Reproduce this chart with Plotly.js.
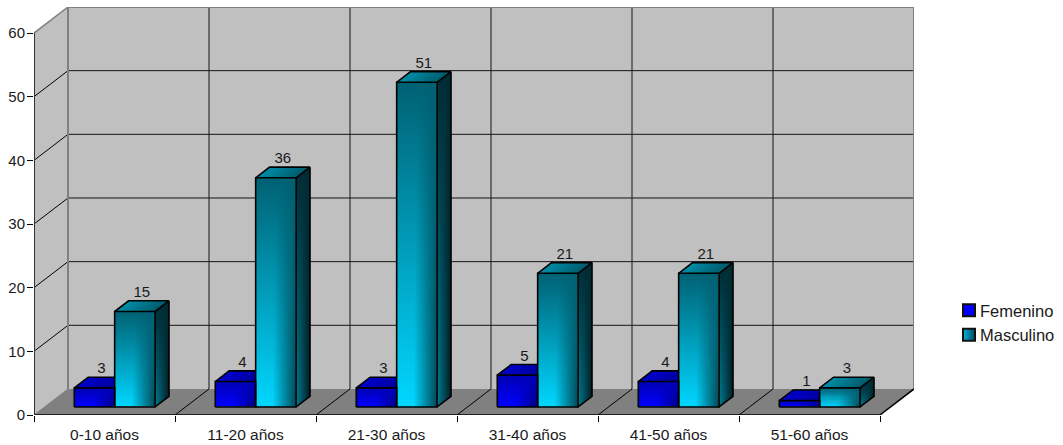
<!DOCTYPE html>
<html>
<head>
<meta charset="utf-8">
<script src="https://cdn.plot.ly/plotly-3.0.1.min.js"></script>
<style>html,body{margin:0;padding:0;background:#fff}</style>
</head>
<body>
<div id="chart" style="width:1063px;height:445px"></div>
<script>
const categories = ['0-10 años', '11-20 años', '21-30 años', '31-40 años', '41-50 años', '51-60 años'];
const femenino = [3, 4, 3, 5, 4, 1];
const masculino = [15, 36, 51, 21, 21, 3];
const yTicks = [0, 10, 20, 30, 40, 50, 60];

// Oblique projection: one unit of depth moves a point right and up, in axis units.
const pxPerCat = 141, pxPerUnit = 6.36;
const depthX = 34 / pxPerCat, depthY = 26 / pxPerUnit;
const barStart = 0.2113, barWidth = 0.2865, barNear = 0.308, barDepth = 0.41;
const nCat = categories.length, yMax = 60;

const clamp = t => Math.max(0, Math.min(1, t));
const mix = (a, b, t) => a + (b - a) * t;

// Brightness of each bar face over its own (u, v) box.
const shade = {
  femFront: (u, v) => mix(mix(1, 0.7, v), mix(0.5, 0.75, v), clamp((u - 0.45 - 0.1 * v) / 0.55)),
  femTop: (u, v) => mix(0.8, 0.6, u),
  mascFront: (u, v) => mix(1 - 0.55 * v, 0.33 + 0.12 * v, clamp((u - 0.42 - 0.1 * v) / 0.58)),
  mascSide: (u, v) => mix(0.58 - 0.36 * v, 0.13 + 0.07 * v, u),
  mascTop: (u, v) => mix(0.66, 0.42, u)
};
const scaleFem = [[0, '#000000'], [1, '#0000ff']];
const scaleMasc = [[0, '#000000'], [1, 'rgb(0,215,255)']];

// A parallelogram with origin O and edge vectors A, B, painted as a masked heatmap.
function face(O, A, B, fn, colorscale) {
  const xs = [O[0], O[0] + A[0], O[0] + B[0], O[0] + A[0] + B[0]];
  const ys = [O[1], O[1] + A[1], O[1] + B[1], O[1] + A[1] + B[1]];
  const x0 = Math.min(...xs), x1 = Math.max(...xs), y0 = Math.min(...ys), y1 = Math.max(...ys);
  const nx = Math.max(2, Math.ceil((x1 - x0) * pxPerCat));
  const ny = Math.max(2, Math.ceil((y1 - y0) * pxPerUnit));
  const xe = Array.from({length: nx + 1}, (_, i) => x0 + (x1 - x0) * i / nx);
  const ye = Array.from({length: ny + 1}, (_, j) => y0 + (y1 - y0) * j / ny);
  const det = A[0] * B[1] - A[1] * B[0];
  const z = [];
  for (let j = 0; j < ny; j++) {
    const row = [];
    const Y = (ye[j] + ye[j + 1]) / 2 - O[1];
    for (let i = 0; i < nx; i++) {
      const X = (xe[i] + xe[i + 1]) / 2 - O[0];
      const u = (X * B[1] - Y * B[0]) / det;
      const v = (A[0] * Y - A[1] * X) / det;
      row.push(u >= -0.001 && u <= 1.001 && v >= -0.001 && v <= 1.001 ? fn(u, v) : null);
    }
    z.push(row);
  }
  return {type: 'heatmap', x: xe, y: ye, z, zmin: 0, zmax: 1, colorscale, showscale: false, hoverinfo: 'skip'};
}

const traces = [], outline = {x: [], y: []};
function stroke(points) {
  points.forEach(p => { outline.x.push(p[0]); outline.y.push(p[1]); });
  outline.x.push(null); outline.y.push(null);
}

const dX = depthX * barDepth, dY = depthY * barDepth;
const labelF = {x: [], y: [], text: []}, labelM = {x: [], y: [], text: []};

categories.forEach((_, c) => {
  const xF = c + barStart + depthX * barNear;
  const xM = xF + barWidth, xEnd = xM + barWidth;
  const base = depthY * barNear;
  const vF = femenino[c], vM = masculino[c];

  // Female bar goes first so the male bar's front face hides its far end.
  traces.push(face([xF, base + vF], [barWidth, 0], [dX, dY], shade.femTop, scaleFem));
  traces.push(face([xF, base], [barWidth, 0], [0, vF], shade.femFront, scaleFem));
  traces.push(face([xM, base + vM], [barWidth, 0], [dX, dY], shade.mascTop, scaleMasc));
  traces.push(face([xEnd, base], [dX, dY], [0, vM], shade.mascSide, scaleMasc));
  traces.push(face([xM, base], [barWidth, 0], [0, vM], shade.mascFront, scaleMasc));

  stroke([[xF, base], [xM, base], [xM, base + vF], [xF, base + vF], [xF, base]]);
  stroke([[xF, base + vF], [xF + dX, base + vF + dY], [xM, base + vF + dY]]);
  stroke([[xM, base], [xEnd, base], [xEnd, base + vM], [xM, base + vM], [xM, base]]);
  stroke([[xM, base + vM], [xM + dX, base + vM + dY], [xEnd + dX, base + vM + dY], [xEnd, base + vM]]);
  stroke([[xEnd, base], [xEnd + dX, base + dY], [xEnd + dX, base + vM + dY]]);

  labelF.x.push(xF + barWidth / 2 + dX / 2); labelF.y.push(base + vF + dY); labelF.text.push(String(vF));
  labelM.x.push(xM + barWidth / 2 + dX / 2); labelM.y.push(base + vM + dY); labelM.text.push(String(vM));
});

traces.push({type: 'scatter', mode: 'lines', x: outline.x, y: outline.y, line: {color: '#000', width: 1.6},
  hoverinfo: 'skip', showlegend: false});

[labelF, labelM].forEach(l => traces.push({type: 'scatter', mode: 'text', x: l.x, y: l.y, text: l.text,
  textposition: 'top center', textfont: {family: 'Liberation Sans, Arial, sans-serif', size: 15, color: '#1a1a1a'},
  cliponaxis: false, hoverinfo: 'skip', showlegend: false}));

// Legend entries only; the bars themselves are the faces above.
traces.push({type: 'scatter', mode: 'markers', name: 'Femenino', x: [null], y: [null],
  marker: {symbol: 'square', size: 12, color: '#0000ff', line: {color: '#111', width: 2}}});
traces.push({type: 'scatter', mode: 'markers', name: 'Masculino', x: [null], y: [null],
  marker: {symbol: 'square', size: 12, color: '#00b4dc', gradient: {type: 'horizontal', color: '#004a5c'},
           line: {color: '#111', width: 2}}});

// Walls, floor and the gridlines that run across them.
const shapes = [];
const poly = (pts, fill) => shapes.push({type: 'path', layer: 'below', xref: 'x', yref: 'y',
  path: 'M' + pts.map(p => p[0] + ',' + p[1]).join('L') + 'Z', fillcolor: fill, line: {width: 0}});
const seg = (a, b, color, width) => shapes.push({type: 'line', layer: 'below', xref: 'x', yref: 'y',
  x0: a[0], y0: a[1], x1: b[0], y1: b[1], line: {color, width}});

poly([[depthX, depthY], [nCat + depthX, depthY], [nCat + depthX, yMax + depthY], [depthX, yMax + depthY]], '#c0c0c0');
poly([[0, 0], [depthX, depthY], [depthX, yMax + depthY], [0, yMax]], '#c0c0c0');
poly([[0, 0], [nCat, 0], [nCat + depthX, depthY], [depthX, depthY]], '#808080');

yTicks.slice(1, -1).forEach(v => {
  seg([depthX, v + depthY], [nCat + depthX, v + depthY], '#141414', 1);
  seg([0, v], [depthX, v + depthY], '#000', 1);
});
for (let i = 1; i < nCat; i++) {
  seg([i + depthX, depthY], [i + depthX, yMax + depthY], '#141414', 1);
  seg([i, 0], [i + depthX, depthY], '#000', 1);
}
const edge = '#808080';
seg([depthX, depthY], [depthX, yMax + depthY], edge, 2);
seg([depthX, yMax + depthY], [nCat + depthX, yMax + depthY], edge, 2);
seg([nCat + depthX, depthY], [nCat + depthX, yMax + depthY], edge, 2);
seg([0, yMax], [depthX, yMax + depthY], edge, 1.5);
seg([0, 0], [depthX, depthY], edge, 1);
seg([nCat, 0], [nCat + depthX, depthY], '#000', 1.5);
seg([0, 0], [nCat, 0], '#000', 1.5);
seg([0, 0], [0, yMax], '#333', 2);

const font = {family: 'Liberation Sans, Arial, sans-serif', size: 15, color: '#1a1a1a'};
const layout = {
  width: 1063, height: 445,
  margin: {l: 34, r: 149, t: 7, b: 30, pad: 0},
  paper_bgcolor: '#fff', plot_bgcolor: '#fff',
  font,
  shapes,
  xaxis: {
    range: [0, nCat + depthX], showgrid: false, zeroline: false, showline: false,
    tickmode: 'array', tickvals: categories.map((_, i) => i + 0.5), ticktext: categories,
    ticks: '', ticklen: 0, tickangle: 0, ticklabelstandoff: 8,
    tickfont: {family: font.family, size: 15.5, color: '#1a1a1a'},
    minor: {tickmode: 'array', tickvals: Array.from({length: nCat + 1}, (_, i) => i), ticks: 'outside',
            ticklen: 6, tickwidth: 1, tickcolor: '#000', showgrid: false}
  },
  yaxis: {
    range: [0, yMax + depthY], showgrid: false, zeroline: false, showline: false,
    tickmode: 'array', tickvals: yTicks, ticks: 'outside', ticklen: 6, tickwidth: 1, tickcolor: '#000',
    ticklabelstandoff: -1,
    tickfont: {family: font.family, size: 15, color: '#1a1a1a'}
  },
  legend: {xref: 'container', yref: 'container', x: 940 / 1063, y: 1 - 293 / 445, xanchor: 'left', yanchor: 'top',
           bgcolor: 'rgba(0,0,0,0)', font: {family: font.family, size: 16.5, color: '#1a1a1a'}},
  hovermode: false
};

Plotly.newPlot('chart', traces, layout, {displayModeBar: false, staticPlot: true}).then(gd => {
  // Sit the swatches closer to their legend text.
  gd.querySelectorAll('.legend .legendsymbols').forEach(g => g.setAttribute('transform', 'translate(9,0)'));
});
</script>
</body>
</html>
